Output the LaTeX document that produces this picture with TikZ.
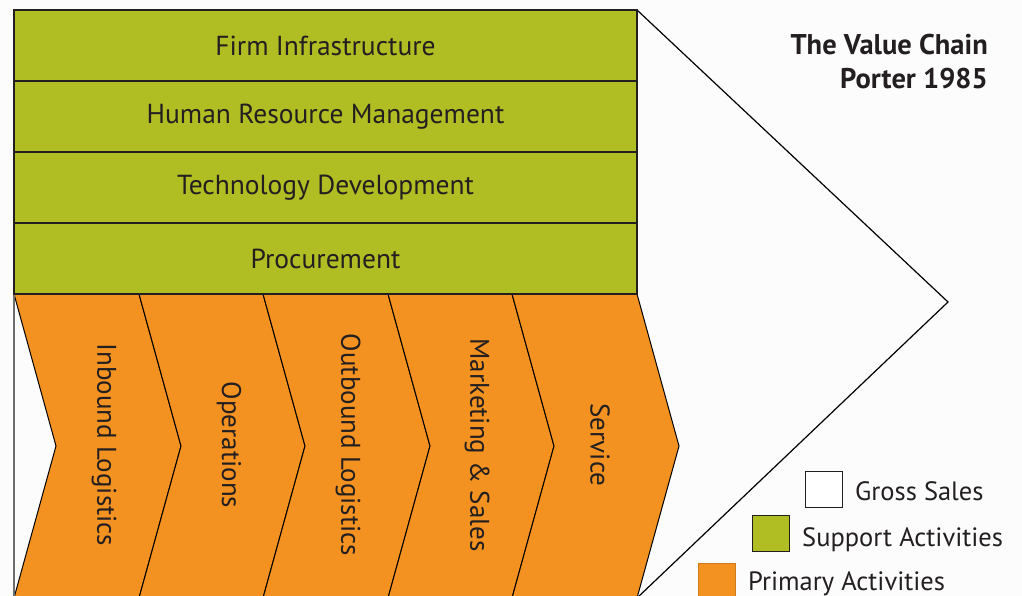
\documentclass[tikz,border=0pt]{standalone}
\usepackage{fontspec}
\setmainfont{PT Sans}
\usetikzlibrary{positioning}

\definecolor{supportgreen}{RGB}{176,189,35}
\definecolor{primaryorange}{RGB}{243,146,32}
\definecolor{inkgray}{RGB}{35,31,32}
\definecolor{edgegray}{RGB}{110,110,110}
\definecolor{paper}{RGB}{252,252,252}

\begin{document}
\begin{tikzpicture}[x=1pt,y=-1pt]
       \tikzset{support/.style={rectangle, minimum width=623pt, minimum height=71pt,
                inner sep=0pt, outer sep=0pt, draw=inkgray, line width=1.5pt, fill=supportgreen,
                text=inkgray, font=\fontsize{27.5}{30}\selectfont}}

       \tikzset{chevron/.style={draw=black, line width=1pt, fill=primaryorange}}

       \tikzset{primary/.style={rotate=-90, inner sep=0pt, text=inkgray,
                font=\fontsize{27}{30}\selectfont}}

       \tikzset{legendbox/.style={rectangle, minimum width=37pt, minimum height=36pt,
                inner sep=0pt, draw=inkgray, line width=1pt}}

       \tikzset{legendtext/.style={anchor=base west, inner sep=0pt, text=inkgray,
                font=\fontsize{26.5}{30}\selectfont}}

       \tikzset{title/.style={anchor=base east, inner sep=0pt, text=inkgray,
                font=\bfseries\fontsize{28.5}{30}\selectfont}}

        \useasboundingbox (0,0) rectangle (1022,596);
        \fill[paper] (0,0) rectangle (1022,596);
        \clip (0,0) rectangle (1022,596);

        % gross sales (margin)
        \draw[fill=paper, line width=1.2pt] (637,10) -- (948,302) -- (637,598);

        % primary activities
        \draw[chevron] (14,294) -- (56,446) -- (14,598) -- (139,598) -- (181,446) -- (139,294) -- cycle;
        \draw[chevron] (139,294) -- (181,446) -- (139,598) -- (263,598) -- (305,446) -- (263,294) -- cycle;
        \draw[chevron] (263,294) -- (305,446) -- (263,598) -- (388,598) -- (430,446) -- (388,294) -- cycle;
        \draw[chevron] (388,294) -- (430,446) -- (388,598) -- (512,598) -- (554,446) -- (512,294) -- cycle;
        \draw[chevron] (512,294) -- (554,446) -- (512,598) -- (637,598) -- (679,446) -- (637,294) -- cycle;
        \draw[edgegray, line width=2pt] (14,294) -- (14,598);

        \node[primary] (inbound) at (104,445) {Inbound Logistics};
        \node[primary] (operations) at (229,445) {Operations};
        \node[primary] (outbound) at (348,445) {Outbound Logistics};
        \node[primary] (marketing) at (477,445) {Marketing \& Sales};
        \node[primary] (service) at (600,445) {Service};

        % support activities
        \node[support] (infra) at (325.5,45.5) {Firm Infrastructure};
        \node[support, below=0pt of infra] (hrm) {Human Resource Management};
        \node[support, below=0pt of hrm] (techdev) {Technology Development};
        \node[support, below=0pt of techdev] (procure) {Procurement};

        % title
        \node[title] (title) at (988,55) {The Value Chain};
        \node[title] (author) at (988,89) {Porter 1985};

        % legend
        \node[legendbox, fill=white] (grossbox) at (824,489.5) {};
        \node[legendbox, fill=supportgreen] (supportbox) at (770.5,533.5) {};
        \node[legendbox, fill=primaryorange, draw=primaryorange!85!black] (primarybox) at (716.5,581) {};
        \node[legendtext] (grosstext) at (855,500) {Gross Sales};
        \node[legendtext] (supporttext) at (802,546) {Support Activities};
        \node[legendtext] (primarytext) at (748,590) {Primary Activities};

\end{tikzpicture}
\end{document}
